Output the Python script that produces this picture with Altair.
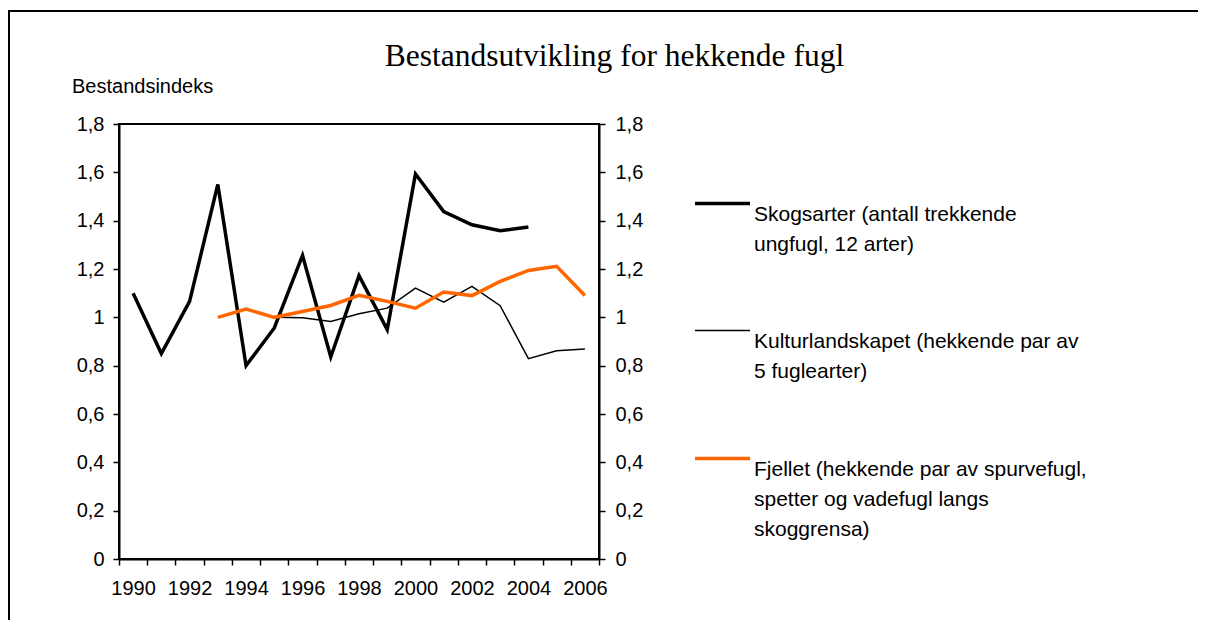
import altair as alt
import pandas as pd

years = list(range(1990, 2007))
skog = [1.10, 0.85, 1.066, 1.55, 0.80, 0.956, 1.256, 0.836, 1.172, 0.949,
        1.593, 1.438, 1.383, 1.358, 1.374, None, None]
kultur = [None, None, None, None, None, 1.0, 0.998, 0.983, 1.015, 1.038,
          1.121, 1.063, 1.128, 1.048, 0.829, 0.862, 0.869]
fjell = [None, None, None, 1.0, 1.034, 1.0, 1.024, 1.049, 1.091, 1.066,
         1.038, 1.105, 1.09, 1.149, 1.194, 1.211, 1.09]

series_names = [
    "Skogsarter (antall trekkende|ungfugl, 12 arter)",
    "Kulturlandskapet (hekkende par av|5 fuglearter)",
    "Fjellet (hekkende par av spurvefugl,|spetter og vadefugl langs|skoggrensa)",
]
series_colors = ["#000000", "#000000", "#FF6600"]
series_widths = [3.5, 1.5, 3.5]
y_ticks = [0, 0.2, 0.4, 0.6, 0.8, 1.0, 1.2, 1.4, 1.6, 1.8]

rows = []
for name, vals in zip(series_names, [skog, kultur, fjell]):
    for yr, v in zip(years, vals):
        if v is not None:
            rows.append({"year": yr, "value": v, "series": name})
df = pd.DataFrame(rows)

W, H = 480, 435
PAD_L, PAD_T = 111, 116

x_enc = alt.X(
    "year:O",
    bandPosition=0.5,
    scale=alt.Scale(type="band", paddingInner=0, paddingOuter=0, domain=years),
    axis=alt.Axis(
        title=None, labelAngle=0, tickBand="extent",
        labelExpr="datum.value % 2 == 0 ? datum.label : ''",
        tickSize=6, labelPadding=13, domainWidth=2, tickWidth=1.5,
    ),
)

ylabel = "replace(format(datum.value, '.1~f'), '.', ',')"

legend = alt.Legend(
    title=None, orient="none", legendX=574, legendY=50,
    direction="vertical", symbolType="stroke", symbolSize=3025,
    labelExpr="split(datum.label, '|')", labelFont="Liberation Sans",
    labelFontSize=21, labelLimit=600, labelOffset=2, rowPadding=47,
    labelColor="black", labelBaseline="top",
)

lines = alt.Chart(df).mark_line(strokeJoin="miter", strokeCap="butt").encode(
    x=x_enc,
    y=alt.Y("value:Q", scale=alt.Scale(domain=[0, 1.8], nice=False, zero=True),
            axis=alt.Axis(title=None, values=y_ticks, labelExpr=ylabel, orient="left",
                          tickSize=6, labelPadding=9, domainWidth=2, tickWidth=1.5, grid=False)),
    color=alt.Color("series:N", sort=series_names,
                    scale=alt.Scale(domain=series_names, range=series_colors),
                    legend=legend),
    strokeWidth=alt.StrokeWidth("series:N", sort=series_names,
                                scale=alt.Scale(type="ordinal", domain=series_names, range=series_widths),
                                legend=legend),
)

right_axis = alt.Chart(df).mark_line(opacity=0).encode(
    x=x_enc,
    y=alt.Y("value:Q", scale=alt.Scale(domain=[0, 1.8], nice=False, zero=True),
            axis=alt.Axis(title=None, values=y_ticks, labelExpr=ylabel, orient="right",
                          tickSize=6, labelPadding=10, domainWidth=2, tickWidth=1.5, grid=False)),
)

title_df = pd.DataFrame({"t": ["Bestandsutvikling for hekkende fugl"]})
title = alt.Chart(title_df).mark_text(
    font="Liberation Serif", fontSize=31.5, align="center", baseline="alphabetic", color="black"
).encode(text="t:N", x=alt.value(495.5), y=alt.value(-58))

ytitle_df = pd.DataFrame({"t": ["Bestandsindeks"]})
ytitle = alt.Chart(ytitle_df).mark_text(
    font="Liberation Sans", fontSize=20, align="left", baseline="alphabetic", color="black"
).encode(text="t:N", x=alt.value(-47), y=alt.value(-31))

frame_top = alt.Chart(title_df).mark_rule(stroke="black", strokeWidth=2, clip=False).encode(
    x=alt.value(-111), x2=alt.value(5000), y=alt.value(-113))
frame_left = alt.Chart(title_df).mark_rule(stroke="black", strokeWidth=2, clip=False).encode(
    x=alt.value(-110), y=alt.value(-114), y2=alt.value(5000))

chart = alt.layer(frame_top, frame_left, lines, right_axis, title, ytitle).resolve_scale(
    y="independent"
).properties(
    width=W, height=H, background="white",
    autosize=alt.AutoSizeParams(type="none"),
    padding={"left": PAD_L, "top": PAD_T, "right": 1190 - PAD_L - W, "bottom": 612 - PAD_T - H},
).configure_view(stroke="black", strokeWidth=2).configure_axis(
    labelFont="Liberation Sans", labelFontSize=20, labelColor="black",
    domainColor="black", tickColor="black",
)
chart.config.style = {"guide-label": {"lineHeight": 30}}

chart.save("out.html", embed_options={"renderer": "svg", "actions": False})
